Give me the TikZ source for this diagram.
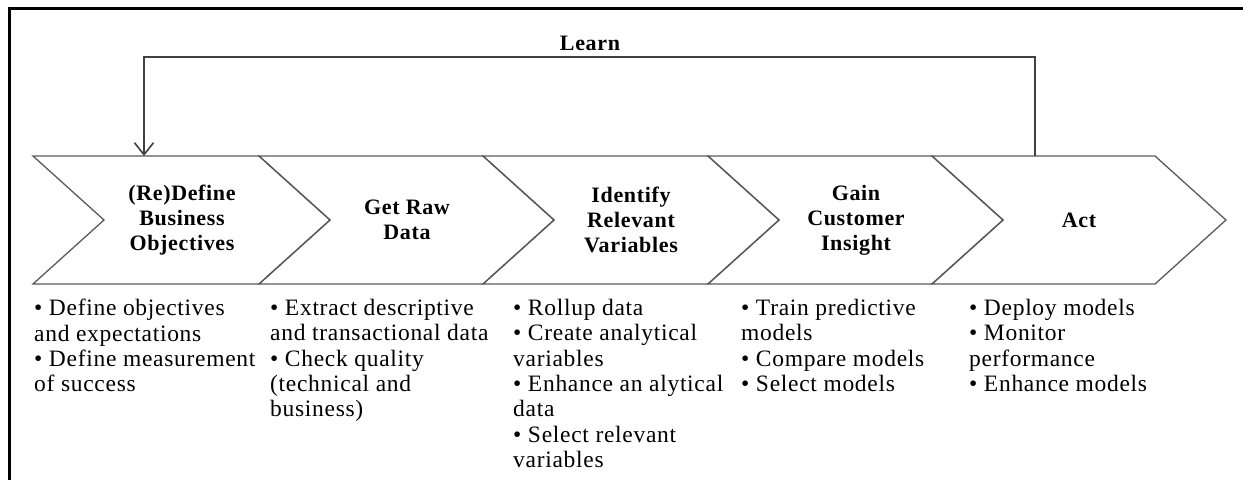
\documentclass[tikz,border=0pt]{standalone}
\usepackage{fontspec}
\setmainfont{Liberation Serif}[LetterSpace=3]
\usetikzlibrary{arrows.meta}

\definecolor{edge}{HTML}{5A5A5A}

\tikzset{
  chev/.style={draw=edge, line width=1.3pt, line join=miter},
  frameline/.style={draw=black, line width=2.8pt},
  title/.style={font=\fontsize{22}{25}\selectfont\bfseries, align=center, inner sep=0pt},
  notes/.style={font=\fontsize{23.5}{25.3}\selectfont, align=left, anchor=north west, inner sep=0pt},
  loop/.style={draw=edge, line width=1.4pt, -{Straight Barb[length=12pt,width=19pt,line width=1.6pt]}, black!75}
}

% chevron: #1 = left edge, #2 = right corner
\newcommand{\chevron}[2]{%
  \path[chev] (#1,156) -- (#2,156) -- (#2+71,220) -- (#2,284) -- (#1,284) -- (#1+71,220) -- cycle;}

\begin{document}
\begin{tikzpicture}[x=1pt,y=-1pt]
\useasboundingbox (0,0) rectangle (1243,480);

% frame (top and left only)
\draw[frameline] (9.5,480) -- (9.5,8.5) -- (1243,8.5);

% process chevrons
\chevron{33}{259}
\chevron{259}{483}
\chevron{483}{708}
\chevron{708}{932}
\chevron{932}{1155}

% stage titles
\node[title] (s1) at (182,220) {(Re)Define\\Business\\Objectives};
\node[title] (s2) at (407,220) {Get Raw\\Data};
\node[title] (s3) at (631,220) {Identify\\Relevant\\Variables};
\node[title] (s4) at (856,220) {Gain\\Customer\\Insight};
\node[title] (s5) at (1079,220) {Act};

% feedback loop
\coordinate (actTop) at (1035,156);
\coordinate (defTop) at (144,156);
\coordinate (loopY) at (0,57);
\draw[loop] (actTop) -- (actTop |- loopY) -- (defTop |- loopY) -- (defTop);
\node[font=\fontsize{22}{24}\selectfont\bfseries, anchor=base, inner sep=0pt] (learn) at (590,50) {Learn};

% task lists
\node[notes] (t1) at (34,299) {• Define objectives\\and expectations\\• Define measurement\\of success};
\node[notes] (t2) at (270,299) {• Extract descriptive\\and transactional data\\• Check quality\\(technical and\\business)};
\node[notes] (t3) at (513,299) {• Rollup data\\• Create analytical\\variables\\• Enhance an alytical\\data\\• Select relevant\\variables};
\node[notes] (t4) at (741,299) {• Train predictive\\models\\• Compare models\\• Select models};
\node[notes] (t5) at (969,299) {• Deploy models\\• Monitor\\performance\\• Enhance models};
\end{tikzpicture}
\end{document}
